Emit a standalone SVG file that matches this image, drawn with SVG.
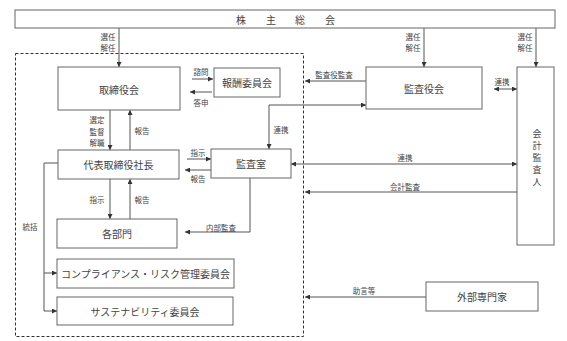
<svg xmlns="http://www.w3.org/2000/svg" width="567" height="341" viewBox="0 0 567 341">
<defs>
<marker id="ah" viewBox="0 0 6 6" refX="6" refY="3" markerWidth="5" markerHeight="5" orient="auto-start-reverse" markerUnits="userSpaceOnUse">
<path d="M0,0 L6,3 L0,6 z" fill="#333"/>
</marker>
<style>
.box{fill:#fff;stroke:#666;stroke-width:1}
.t{font-family:"Noto Sans CJK JP","Noto Sans",sans-serif;font-size:10px;fill:#444;text-anchor:middle;dominant-baseline:central}
.v{font-family:"Noto Sans CJK JP","Noto Sans",sans-serif;font-size:9px;fill:#444;text-anchor:middle;dominant-baseline:central}
.s{font-family:"Noto Sans CJK JP","Noto Sans",sans-serif;font-size:7.5px;fill:#444;text-anchor:middle;dominant-baseline:central}
.c{fill:none;stroke:#555;stroke-width:1}
.a{marker-end:url(#ah)}
.b{marker-start:url(#ah);marker-end:url(#ah)}
</style>
</defs>
<rect x="15.5" y="53.5" width="288" height="283" fill="none" stroke="#333" stroke-width="1" stroke-dasharray="3,2"/>
<g id="connectors">
<line class="c a" x1="119" y1="28" x2="119" y2="67"/>
<line class="c a" x1="424" y1="28" x2="424" y2="67"/>
<line class="c a" x1="536" y1="28" x2="536" y2="67"/>
<line class="c a" x1="192" y1="79" x2="213" y2="79"/>
<line class="c a" x1="212" y1="92" x2="190" y2="92"/>
<line class="c a" x1="366" y1="81" x2="305" y2="81"/>
<polyline class="c b" points="269,149 269,105 366,105"/>
<line class="c b" x1="494" y1="89" x2="517" y2="89"/>
<line class="c a" x1="110" y1="110" x2="110" y2="150"/>
<line class="c a" x1="130" y1="150" x2="130" y2="110"/>
<line class="c a" x1="187" y1="159" x2="211" y2="159"/>
<line class="c a" x1="211" y1="170" x2="185" y2="170"/>
<line class="c b" x1="291" y1="164" x2="517" y2="164"/>
<line class="c a" x1="517" y1="192" x2="305" y2="192"/>
<line class="c a" x1="110" y1="179" x2="110" y2="219"/>
<line class="c a" x1="130" y1="219" x2="130" y2="179"/>
<polyline class="c a" points="250,178 250,232 185,232"/>
<polyline class="c" points="58,163 44,163 44,311"/>
<line class="c a" x1="44" y1="273" x2="57" y2="273"/>
<line class="c a" x1="44" y1="311" x2="57" y2="311"/>
<line class="c a" x1="426" y1="297" x2="305" y2="297"/>
<text class="s" x="108" y="36">選任</text>
<text class="s" x="108" y="47">解任</text>
<text class="s" x="413" y="36">選任</text>
<text class="s" x="413" y="47">解任</text>
<text class="s" x="525" y="36">選任</text>
<text class="s" x="525" y="47">解任</text>
<text class="s" x="201" y="71">諮問</text>
<text class="s" x="201" y="102">答申</text>
<text class="s" x="334" y="74">監査役監査</text>
<text class="s" x="502" y="81">連携</text>
<text class="s" x="281" y="129">連携</text>
<text class="s" x="97" y="119">選定</text>
<text class="s" x="97" y="131">監督</text>
<text class="s" x="97" y="142">解職</text>
<text class="s" x="142" y="130">報告</text>
<text class="s" x="198" y="152">指示</text>
<text class="s" x="198" y="178">報告</text>
<text class="s" x="405" y="157">連携</text>
<text class="s" x="405" y="186">会計監査</text>
<text class="s" x="97" y="199">指示</text>
<text class="s" x="142" y="199">報告</text>
<text class="s" x="221" y="227">内部監査</text>
<text class="s" x="30" y="226">統括</text>
<text class="s" x="364" y="290">助言等</text>
</g>
<g id="shareholders">
<rect class="box" x="15" y="10" width="540" height="18"/>
<text class="t" x="241" y="19">株</text>
<text class="t" x="271" y="19">主</text>
<text class="t" x="300" y="19">総</text>
<text class="t" x="330" y="19">会</text>
</g>
<g id="board">
<rect class="box" x="58" y="67" width="122" height="43"/>
<text class="t" x="119" y="89">取締役会</text>
</g>
<g id="compensation">
<rect class="box" x="214" y="68" width="66" height="29"/>
<text class="t" x="247" y="82.5">報酬委員会</text>
</g>
<g id="auditboard">
<rect class="box" x="366" y="67" width="116" height="42"/>
<text class="t" x="424" y="88">監査役会</text>
</g>
<g id="accountant">
<rect class="box" x="517" y="67" width="37" height="178"/>
<text class="v" x="537" y="133">会</text>
<text class="v" x="537" y="145">計</text>
<text class="v" x="537" y="157">監</text>
<text class="v" x="537" y="169">査</text>
<text class="v" x="537" y="181">人</text>
</g>
<g id="president">
<rect class="box" x="58" y="150" width="121" height="29"/>
<text class="t" x="118.5" y="164.5">代表取締役社長</text>
</g>
<g id="auditoffice">
<rect class="box" x="211" y="149" width="80" height="29"/>
<text class="t" x="251" y="163.5">監査室</text>
</g>
<g id="departments">
<rect class="box" x="57" y="219" width="120" height="29"/>
<text class="t" x="117" y="233.5">各部門</text>
</g>
<g id="compliance">
<rect class="box" x="57" y="259" width="177" height="29"/>
<text class="t" x="145.5" y="273.5">コンプライアンス・リスク管理委員会</text>
</g>
<g id="sustainability">
<rect class="box" x="57" y="297" width="176" height="28"/>
<text class="t" x="145" y="311">サステナビリティ委員会</text>
</g>
<g id="experts">
<rect class="box" x="426" y="282" width="112" height="29"/>
<text class="t" x="482" y="296.5">外部専門家</text>
</g>
</svg>
